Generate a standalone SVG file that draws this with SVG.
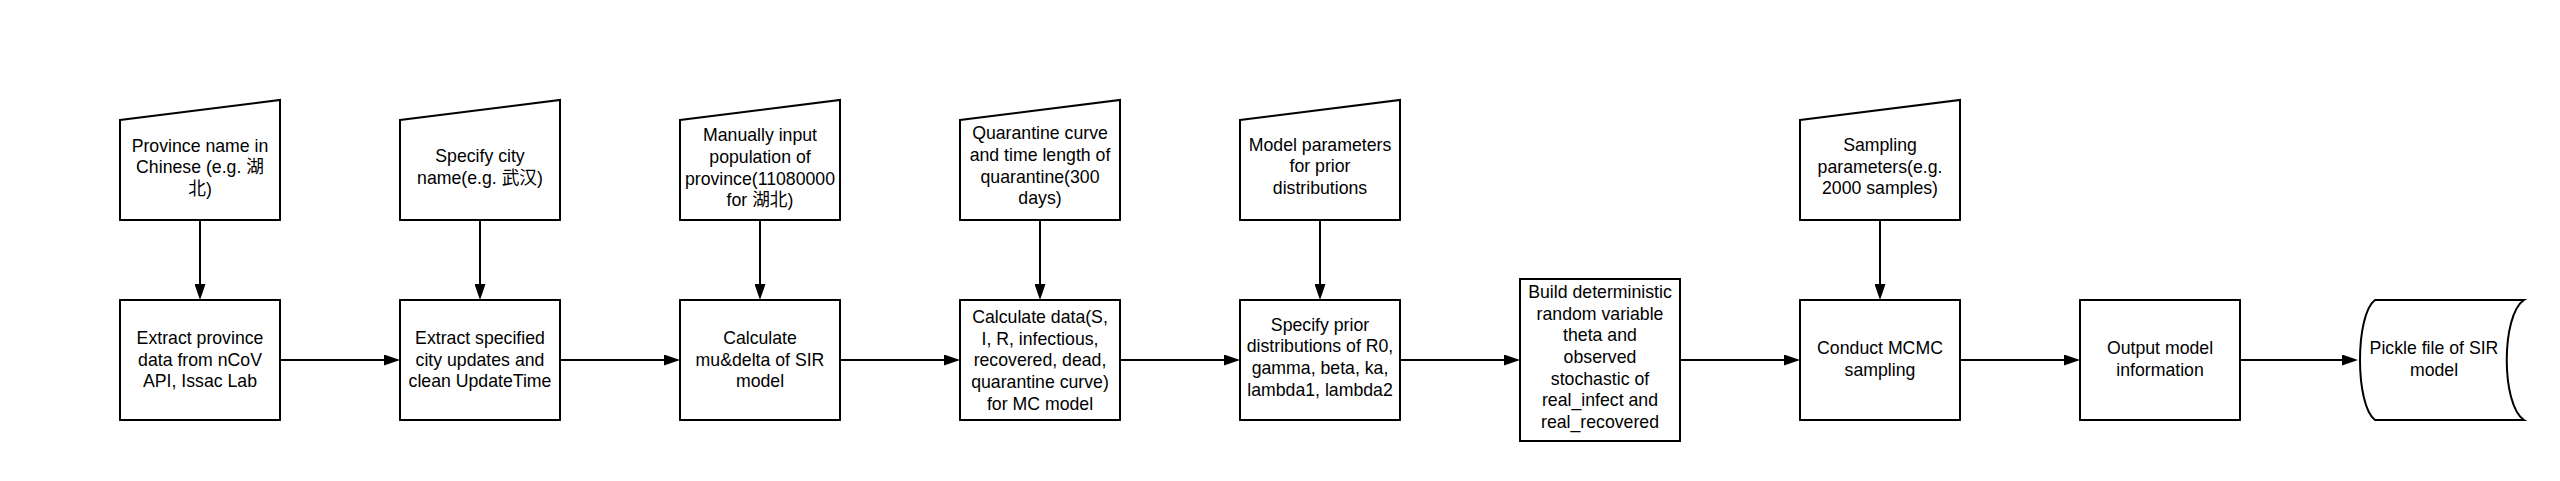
<svg xmlns="http://www.w3.org/2000/svg" width="2560" height="481" viewBox="0 0 2560 481">
<defs>
<style>
.shape{fill:#fff;stroke:#000;stroke-width:2;stroke-linejoin:miter}
.conn{fill:none;stroke:#000;stroke-width:2}
text{font-family:"Liberation Sans","Noto Sans CJK SC",Arial,sans-serif;font-size:17.7px;fill:#000;text-anchor:middle}
</style>
<marker id="arrow" markerUnits="userSpaceOnUse" markerWidth="16" markerHeight="11" refX="8" refY="5.5" orient="auto">
<path d="M0,0 L16,5.5 L0,11 Z" fill="#000"/>
</marker>
</defs>
<rect width="2560" height="481" fill="#fff"/>

<g id="connectors">
<path class="conn" d="M200,221 V292" marker-end="url(#arrow)"/>
<path class="conn" d="M480,221 V292" marker-end="url(#arrow)"/>
<path class="conn" d="M760,221 V292" marker-end="url(#arrow)"/>
<path class="conn" d="M1040,221 V292" marker-end="url(#arrow)"/>
<path class="conn" d="M1320,221 V292" marker-end="url(#arrow)"/>
<path class="conn" d="M1880,221 V292" marker-end="url(#arrow)"/>
<path class="conn" d="M281,360 H392" marker-end="url(#arrow)"/>
<path class="conn" d="M561,360 H672" marker-end="url(#arrow)"/>
<path class="conn" d="M841,360 H952" marker-end="url(#arrow)"/>
<path class="conn" d="M1121,360 H1232" marker-end="url(#arrow)"/>
<path class="conn" d="M1401,360 H1512" marker-end="url(#arrow)"/>
<path class="conn" d="M1681,360 H1792" marker-end="url(#arrow)"/>
<path class="conn" d="M1961,360 H2072" marker-end="url(#arrow)"/>
<path class="conn" d="M2241,360 H2350" marker-end="url(#arrow)"/>
</g>

<g id="input1">
<path class="shape" d="M120,120 L280,100 L280,220 L120,220 Z"/>
<text><tspan x="200" y="151.5">Province name in</tspan><tspan x="200" y="173.2">Chinese (e.g. 湖</tspan><tspan x="200" y="194.9">北)</tspan></text>
</g>
<g id="input2">
<path class="shape" d="M400,120 L560,100 L560,220 L400,220 Z"/>
<text><tspan x="480" y="162.3">Specify city</tspan><tspan x="480" y="184">name(e.g. 武汉)</tspan></text>
</g>
<g id="input3">
<path class="shape" d="M680,120 L840,100 L840,220 L680,220 Z"/>
<text><tspan x="760" y="141.1">Manually input</tspan><tspan x="760" y="162.8">population of</tspan><tspan x="760" y="184.5">province(11080000</tspan><tspan x="760" y="206.2">for 湖北)</tspan></text>
</g>
<g id="input4">
<path class="shape" d="M960,120 L1120,100 L1120,220 L960,220 Z"/>
<text><tspan x="1040" y="139.1">Quarantine curve</tspan><tspan x="1040" y="160.8">and time length of</tspan><tspan x="1040" y="182.5">quarantine(300</tspan><tspan x="1040" y="204.2">days)</tspan></text>
</g>
<g id="input5">
<path class="shape" d="M1240,120 L1400,100 L1400,220 L1240,220 Z"/>
<text><tspan x="1320" y="150.5">Model parameters</tspan><tspan x="1320" y="172.2">for prior</tspan><tspan x="1320" y="193.9">distributions</tspan></text>
</g>
<g id="input6">
<path class="shape" d="M1800,120 L1960,100 L1960,220 L1800,220 Z"/>
<text><tspan x="1880" y="151">Sampling</tspan><tspan x="1880" y="172.7">parameters(e.g.</tspan><tspan x="1880" y="194.4">2000 samples)</tspan></text>
</g>

<g id="process1">
<rect class="shape" x="120" y="300" width="160" height="120"/>
<text><tspan x="200" y="344">Extract province</tspan><tspan x="200" y="365.7">data from nCoV</tspan><tspan x="200" y="387.4">API, Issac Lab</tspan></text>
</g>
<g id="process2">
<rect class="shape" x="400" y="300" width="160" height="120"/>
<text><tspan x="480" y="344">Extract specified</tspan><tspan x="480" y="365.7">city updates and</tspan><tspan x="480" y="387.4">clean UpdateTime</tspan></text>
</g>
<g id="process3">
<rect class="shape" x="680" y="300" width="160" height="120"/>
<text><tspan x="760" y="344">Calculate</tspan><tspan x="760" y="365.7">mu&amp;delta of SIR</tspan><tspan x="760" y="387.4">model</tspan></text>
</g>
<g id="process4">
<rect class="shape" x="960" y="300" width="160" height="120"/>
<text><tspan x="1040" y="322.8">Calculate data(S,</tspan><tspan x="1040" y="344.5">I, R, infectious,</tspan><tspan x="1040" y="366.2">recovered, dead,</tspan><tspan x="1040" y="387.9">quarantine curve)</tspan><tspan x="1040" y="409.6">for MC model</tspan></text>
</g>
<g id="process5">
<rect class="shape" x="1240" y="300" width="160" height="120"/>
<text><tspan x="1320" y="330.6">Specify prior</tspan><tspan x="1320" y="352.3">distributions of R0,</tspan><tspan x="1320" y="374">gamma, beta, ka,</tspan><tspan x="1320" y="395.7">lambda1, lambda2</tspan></text>
</g>
<g id="process6">
<rect class="shape" x="1520" y="279" width="160" height="162"/>
<text><tspan x="1600" y="297.8">Build deterministic</tspan><tspan x="1600" y="319.5">random variable</tspan><tspan x="1600" y="341.2">theta and</tspan><tspan x="1600" y="362.9">observed</tspan><tspan x="1600" y="384.6">stochastic of</tspan><tspan x="1600" y="406.3">real_infect and</tspan><tspan x="1600" y="428">real_recovered</tspan></text>
</g>
<g id="process7">
<rect class="shape" x="1800" y="300" width="160" height="120"/>
<text><tspan x="1880" y="354.3">Conduct MCMC</tspan><tspan x="1880" y="376">sampling</tspan></text>
</g>
<g id="process8">
<rect class="shape" x="2080" y="300" width="160" height="120"/>
<text><tspan x="2160" y="354.3">Output model</tspan><tspan x="2160" y="376">information</tspan></text>
</g>
<g id="storage">
<path class="shape" d="M2375,300 L2524,300 C2501,315 2501,405 2524,420 L2375,420 C2355,405 2355,315 2375,300 Z"/>
<text><tspan x="2434" y="354.3">Pickle file of SIR</tspan><tspan x="2434" y="376">model</tspan></text>
</g>
</svg>
